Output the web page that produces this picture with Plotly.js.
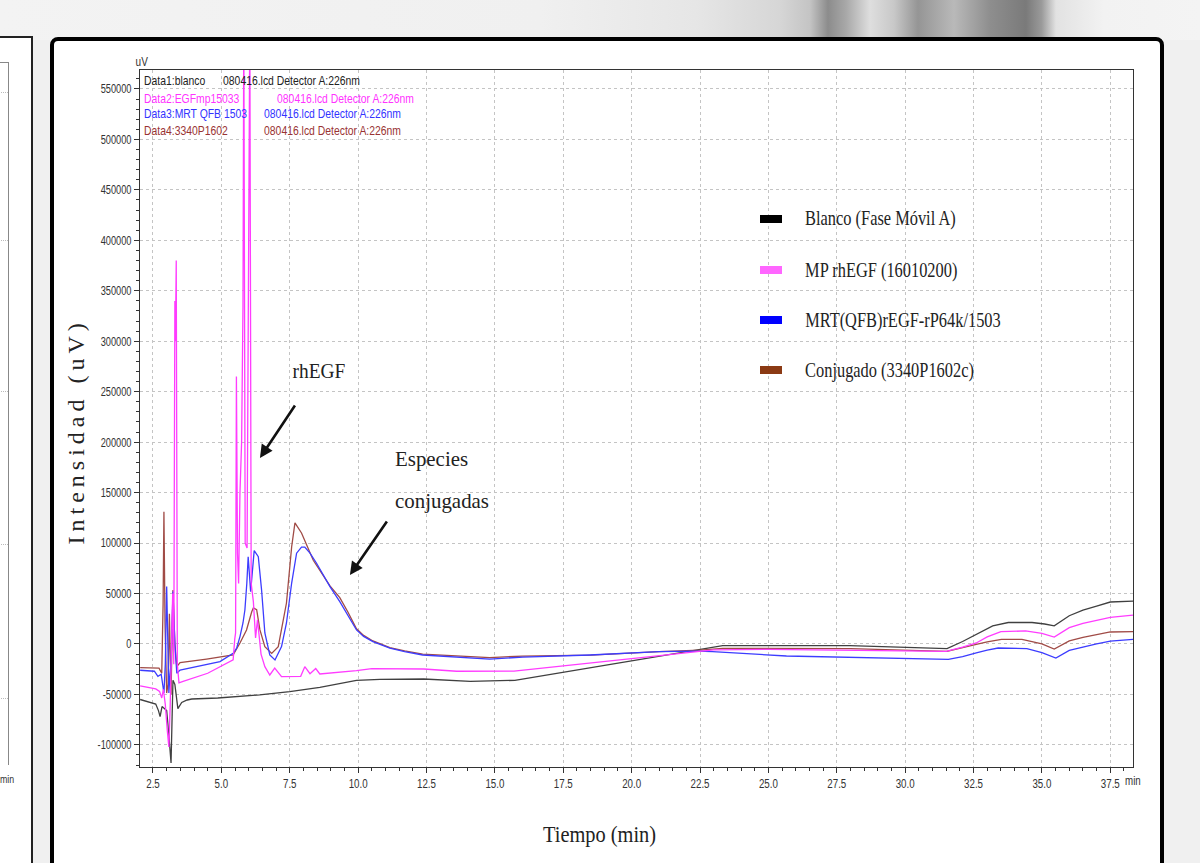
<!DOCTYPE html>
<html>
<head>
<meta charset="utf-8">
<script src="https://cdn.plot.ly/plotly-3.0.1.min.js"></script>
<style>
  body{margin:0;width:1200px;height:863px;overflow:hidden;background:#f0f0f0;position:relative;}
  #band{position:absolute;left:0;top:0;width:1200px;height:40px;
    background:linear-gradient(90deg,#f3f3f3 0%,#f0f0f0 45%,#e6e6e6 58%,#d6d6d6 65%,#c4c4c4 67.5%,#8c8c8c 69%,#a8a8a8 70.5%,#dedede 72.5%,#c8c8c8 74.5%,#959595 76.5%,#b9b9b9 79.5%,#8e8e8e 82.5%,#7a7a7a 85.5%,#9a9a9a 86.8%,#e2e2e2 88%,#f2f2f2 92%,#f4f4f4 100%);}
  #leftpanel{position:absolute;left:-4px;top:36px;width:37px;height:900px;background:#fff;border:2px solid #222;box-sizing:border-box;}
  #leftinner{position:absolute;left:0;top:24px;width:10px;height:702px;border-right:1px solid #888;border-top:1px solid #888;}
  .lgrid{position:absolute;left:0;width:10px;border-top:1px dotted #bbb;}
  #lmin{position:absolute;left:2px;top:735px;font:11px "Liberation Sans","DejaVu Sans",sans-serif;color:#333;transform:scaleX(0.8);transform-origin:left center;}
  #frame{position:absolute;left:50px;top:37px;width:1114px;height:900px;background:#fff;border:4px solid #000;border-radius:8px;box-sizing:border-box;}
  #chart{position:absolute;left:0;top:0;width:1200px;height:863px;}
</style>
</head>
<body>
<div id="band"></div>
<div id="leftpanel">
  <div id="leftinner"></div>
  <div class="lgrid" style="top:54px"></div>
  <div class="lgrid" style="top:202px"></div>
  <div class="lgrid" style="top:353px"></div>
  <div class="lgrid" style="top:506px"></div>
  <div class="lgrid" style="top:660px"></div>
  <div id="lmin">min</div>
</div>
<div id="frame"></div>
<div id="chart"></div>
<script>
// ---------------- data (time in min, intensity in uV) ----------------
const blancoT = [2.03, 2.6, 2.7, 2.76, 2.83, 2.9, 3.0, 3.08, 3.16, 3.23, 3.3, 3.41, 3.55, 3.75, 3.92, 4.87, 6.04, 6.4, 7.5, 8.6, 9.94, 10.8, 12.4, 14.1, 15.73, 23.33, 27.97, 30.78, 31.53, 32.1, 32.65, 33.2, 33.77, 34.64, 35.1, 35.45, 36.0, 36.5, 37.0, 37.5, 38.33];
const blancoY = [-55000, -59500, -66000, -72000, -62000, -64000, -66000, -90000, -118000, -36000, -40000, -64000, -58000, -55500, -54500, -53500, -51500, -50500, -47300, -43000, -36000, -35000, -34700, -37000, -36000, -1700, -1700, -3700, -4500, 2500, 10000, 18000, 21300, 21300, 19800, 18000, 28000, 33500, 37500, 41600, 42500];

const rhegfT = [2.03, 2.6, 2.74, 2.82, 2.88, 2.95, 3.02, 3.08, 3.13, 3.18, 3.22, 3.26, 3.3, 3.32, 3.35, 3.39, 3.45, 3.6, 4.5, 5.0, 5.43, 5.49, 5.52, 5.55, 5.59, 5.63, 5.68, 5.74, 5.79, 5.82, 5.87, 5.94, 6.04, 6.09, 6.17, 6.25, 6.32, 6.45, 6.59, 6.77, 6.95, 7.2, 7.9, 8.05, 8.24, 8.45, 8.6, 9.94, 10.5, 12.4, 13.6, 15.7, 23.0, 25.0, 31.5, 32.1, 32.6, 33.0, 33.5, 34.4, 35.0, 35.45, 36.0, 36.5, 37.0, 37.5, 38.33];
const rhegfY = [-41600, -44500, -47000, -53500, -45000, -60000, -85000, -102000, -60000, 20000, 50000, -20000, 340000, 300000, 380000, -20000, -38600, -37000, -29000, -22000, -15800, 5000, 11000, 265000, 90000, 60000, 150000, 200000, 335000, 620000, 100000, 95000, 620000, 60000, 42000, 6000, 24000, -10000, -22500, -30700, -23800, -32400, -32000, -22500, -29500, -24300, -29700, -26400, -24400, -24800, -27000, -26800, -5900, -5300, -7300, -3000, 1000, 7000, 12200, 12900, 10500, 6900, 16200, 20500, 23800, 26400, 28700];

const mrtT = [2.03, 2.55, 2.68, 2.8, 2.9, 2.95, 3.0, 3.04, 3.08, 3.12, 3.16, 3.23, 3.3, 3.37, 3.49, 4.95, 5.43, 5.56, 5.68, 5.79, 5.86, 5.93, 5.98, 6.07, 6.2, 6.35, 6.47, 6.59, 6.77, 6.96, 7.2, 7.38, 7.57, 7.75, 7.93, 8.05, 8.24, 8.48, 8.97, 9.33, 9.62, 9.94, 10.2, 10.54, 11.16, 11.7, 12.36, 13.6, 14.81, 16.02, 18.47, 21.0, 22.38, 22.96, 24.2, 25.66, 31.58, 32.1, 32.6, 33.0, 33.4, 34.45, 35.0, 35.51, 36.0, 36.5, 37.0, 37.5, 38.33];
const mrtY = [-26000, -27000, -32000, -30000, -48600, -20000, 57000, 0, -48600, -30000, -20000, 52000, 0, -29000, -25800, -17500, -9300, -4000, 7300, 20800, 33700, 60000, 86500, 51800, 92500, 86500, 53500, 10900, -10900, -15800, -2600, 20800, 60400, 90000, 96000, 96000, 90000, 80000, 56800, 42000, 28700, 13900, 7500, 2300, -4000, -7500, -10900, -12600, -15000, -13000, -10900, -7600, -7000, -7600, -9300, -11900, -15200, -12500, -8800, -6000, -4000, -4600, -8500, -13900, -6300, -2800, 0, 2900, 4500];

const conjT = [2.03, 2.72, 2.82, 2.87, 2.9, 2.94, 3.0, 3.05, 3.1, 3.16, 3.23, 3.3, 3.37, 3.49, 4.46, 5.43, 5.68, 5.92, 6.11, 6.17, 6.29, 6.41, 6.59, 6.84, 7.08, 7.38, 7.57, 7.69, 7.93, 8.36, 8.97, 9.33, 9.62, 9.94, 10.2, 10.54, 11.16, 11.7, 12.36, 13.6, 14.81, 16.0, 18.5, 21.0, 22.5, 23.33, 28.0, 31.53, 32.1, 32.6, 33.0, 33.52, 34.27, 35.0, 35.45, 36.0, 36.5, 37.0, 37.5, 38.33];
const conjY = [-23500, -24000, -29000, 40000, 131000, 20000, -48600, -40000, 30000, -50000, 53500, 0, -22500, -18500, -15000, -10900, 1000, 13900, 32000, 35700, 34000, 13900, -2600, -9300, -2600, 40600, 96400, 120000, 110000, 83000, 57500, 45900, 32000, 15000, 8500, 3000, -3500, -6800, -10000, -11500, -13500, -12000, -11000, -7600, -6000, -4300, -4500, -7300, -4000, -500, 2000, 4500, 4500, 0, -5000, 3000, 6500, 9500, 11900, 12200];

const xTickVals = [2.5, 5, 7.5, 10, 12.5, 15, 17.5, 20, 22.5, 25, 27.5, 30, 32.5, 35, 37.5];
const xTickText = ["2.5", "5.0", "7.5", "10.0", "12.5", "15.0", "17.5", "20.0", "22.5", "25.0", "27.5", "30.0", "32.5", "35.0", "37.5"];
const yTickVals = [-100000, -50000, 0, 50000, 100000, 150000, 200000, 250000, 300000, 350000, 400000, 450000, 500000, 550000];
const yTickText = ["-100000", "-50000", "0", "50000", "100000", "150000", "200000", "250000", "300000", "350000", "400000", "450000", "500000", "550000"];

const legendNames = ["Blanco (Fase Móvil A)", "MP rhEGF (16010200)", "MRT(QFB)rEGF-rP64k/1503", "Conjugado (3340P1602c)"];
const headerNames = ["Data1:blanco", "Data2:EGFmp15033", "Data3:MRT QFB 1503", "Data4:3340P1602"];
const headerFile = "080416.lcd Detector A:226nm";

// ---------------- styling ----------------
const lineColors = ["#404040", "#ff3cff", "#3c3cff", "#a04b46"];
const swatchColors = ["#000000", "#ff66ff", "#0000ff", "#8b3a14"];
const headerColors = ["#222222", "#ff33ff", "#3333ff", "#993333"];

const L = 140, R = 1133, T = 70, B = 767;
const px = v => (v - L) / (R - L);
const py = v => (B - v) / (B - T);
const sans = '"Liberation Sans", Arial, "DejaVu Sans", sans-serif';
const serif = '"Liberation Serif", "Times New Roman", serif';

const series = [
  {t: blancoT, y: blancoY, c: lineColors[0], n: legendNames[0]},
  {t: conjT, y: conjY, c: lineColors[3], n: legendNames[3]},
  {t: mrtT, y: mrtY, c: lineColors[2], n: legendNames[2]},
  {t: rhegfT, y: rhegfY, c: lineColors[1], n: legendNames[1]}
];
const traces = series.map(s => ({
  x: s.t, y: s.y, name: s.n, type: 'scatter', mode: 'lines',
  line: {color: s.c, width: 1.3}, showlegend: false, hoverinfo: 'skip'
}));

const annotations = [];
const shapes = [];
const squeeze = []; // [annotation index, scale, origin]

function addAnn(a, scale, origin) {
  annotations.push(a);
  if (scale) squeeze.push([annotations.length - 1, scale, origin || 'left center']);
}

// uV unit
addAnn({xref: 'paper', yref: 'paper', x: px(142), y: py(62), text: 'uV', showarrow: false,
  font: {family: sans, size: 12.5, color: '#333'}, xanchor: 'center', yanchor: 'middle'}, 0.8, 'center center');

// header rows
const headRowY = [81, 98, 114, 130];
const headFileX = [221, 275, 262, 262];
headerNames.forEach((h, i) => {
  addAnn({xref: 'paper', yref: 'paper', x: px(142), y: py(headRowY[i]), text: h, showarrow: false,
    font: {family: sans, size: 13, color: headerColors[i]}, xanchor: 'left', yanchor: 'middle'}, 0.8);
  addAnn({xref: 'paper', yref: 'paper', x: px(headFileX[i]), y: py(headRowY[i]), text: headerFile, showarrow: false,
    font: {family: sans, size: 13, color: headerColors[i]}, xanchor: 'left', yanchor: 'middle'}, 0.8);
});

// legend
const legRowY = [219, 270, 320, 370];
legendNames.forEach((n, i) => {
  shapes.push({type: 'rect', xref: 'paper', yref: 'paper', x0: px(760), x1: px(782), y0: py(legRowY[i] - 4), y1: py(legRowY[i] + 4),
    fillcolor: swatchColors[i], line: {width: 0}});
  addAnn({xref: 'paper', yref: 'paper', x: px(803), y: py(legRowY[i]), text: n, showarrow: false,
    font: {family: serif, size: 20, color: '#222'}, xanchor: 'left', yanchor: 'middle'}, 0.82);
});

// axis titles
addAnn({xref: 'paper', yref: 'paper', x: px(76), y: py(432), text: 'Intensidad (uV)', showarrow: false,
  textangle: -90, font: {family: serif, size: 24, color: '#222'}, xanchor: 'center', yanchor: 'middle'});
addAnn({xref: 'paper', yref: 'paper', x: px(599), y: py(834), text: 'Tiempo (min)', showarrow: false,
  font: {family: serif, size: 24, color: '#222'}, xanchor: 'center', yanchor: 'middle'}, 0.85, 'center center');
// "min" after last tick label
addAnn({xref: 'x', yref: 'paper', x: 37.5, y: py(781), xshift: 13, text: 'min', showarrow: false,
  font: {family: sans, size: 12.5, color: '#333'}, xanchor: 'left', yanchor: 'middle'}, 0.78);

// peak labels and arrows
addAnn({xref: 'x', yref: 'y', x: 6.41, y: 184300, ax: 36, ay: -54, text: '', showarrow: true,
  arrowhead: 2, arrowsize: 1, arrowwidth: 2.6, arrowcolor: '#111'});
addAnn({xref: 'x', yref: 'y', x: 9.70, y: 68400, ax: 38, ay: -55, text: '', showarrow: true,
  arrowhead: 2, arrowsize: 1, arrowwidth: 2.6, arrowcolor: '#111'});
addAnn({xref: 'paper', yref: 'paper', x: px(319), y: py(370), text: 'rhEGF', showarrow: false,
  font: {family: serif, size: 22, color: '#222'}, xanchor: 'center', yanchor: 'middle'}, 0.88, 'center center');
addAnn({xref: 'paper', yref: 'paper', x: px(393), y: py(458), text: 'Especies', showarrow: false,
  font: {family: serif, size: 22, color: '#222'}, xanchor: 'left', yanchor: 'middle'}, 0.95);
addAnn({xref: 'paper', yref: 'paper', x: px(393), y: py(500), text: 'conjugadas', showarrow: false,
  font: {family: serif, size: 22, color: '#222'}, xanchor: 'left', yanchor: 'middle'}, 0.95);

const axisCommon = {
  showline: true, mirror: true, linecolor: '#333', linewidth: 1,
  ticks: 'outside', ticklen: 5, tickcolor: '#333', tickwidth: 1,
  showgrid: true, gridcolor: '#c4c4c4', griddash: 'dot', gridwidth: 1,
  zeroline: false, tickfont: {family: sans, size: 12.5, color: '#333'}, fixedrange: true
};

const layout = {
  width: 1200, height: 863,
  margin: {l: L, r: 1200 - R, t: T, b: 863 - B, pad: 0},
  paper_bgcolor: 'rgba(0,0,0,0)', plot_bgcolor: '#ffffff',
  showlegend: false,
  xaxis: Object.assign({}, axisCommon, {
    range: [2.025, 38.33], tickmode: 'array', tickvals: xTickVals, ticktext: xTickText,
    minor: {ticks: 'outside', ticklen: 3, tickcolor: '#333', tick0: 2.5, dtick: 0.5, showgrid: false}
  }),
  yaxis: Object.assign({}, axisCommon, {
    range: [-121900, 568800], tickmode: 'array', tickvals: yTickVals, ticktext: yTickText,
    minor: {ticks: 'outside', ticklen: 3, tickcolor: '#333', tick0: 0, dtick: 10000, showgrid: false}
  }),
  annotations: annotations,
  shapes: shapes
};

function squeezeEl(el, scale, origin) {
  el.style.transformBox = 'fill-box';
  el.style.transformOrigin = origin;
  el.style.transform = 'scaleX(' + scale + ')';
}
function condenseTick(el, scale) {
  const w = el.getComputedTextLength();
  if (w > 0) {
    el.setAttribute('textLength', (w * scale).toFixed(2));
    el.setAttribute('lengthAdjust', 'spacingAndGlyphs');
  }
}

Plotly.newPlot('chart', traces, layout, {staticPlot: true, displayModeBar: false}).then(gd => {
  squeeze.forEach(([idx, scale, origin]) => {
    const g = gd.querySelector('.annotation[data-index="' + idx + '"]');
    if (g) { const t = g.querySelector('text'); if (t) squeezeEl(t, scale, origin); }
  });
  gd.querySelectorAll('.ytick text').forEach(t => condenseTick(t, 0.74));
  gd.querySelectorAll('.xtick text').forEach(t => condenseTick(t, 0.78));
  gd.querySelectorAll('.annotation-text').forEach(el => {
    if (el.textContent === 'Intensidad (uV)') el.style.letterSpacing = '5px';
  });
});
</script>
</body>
</html>
